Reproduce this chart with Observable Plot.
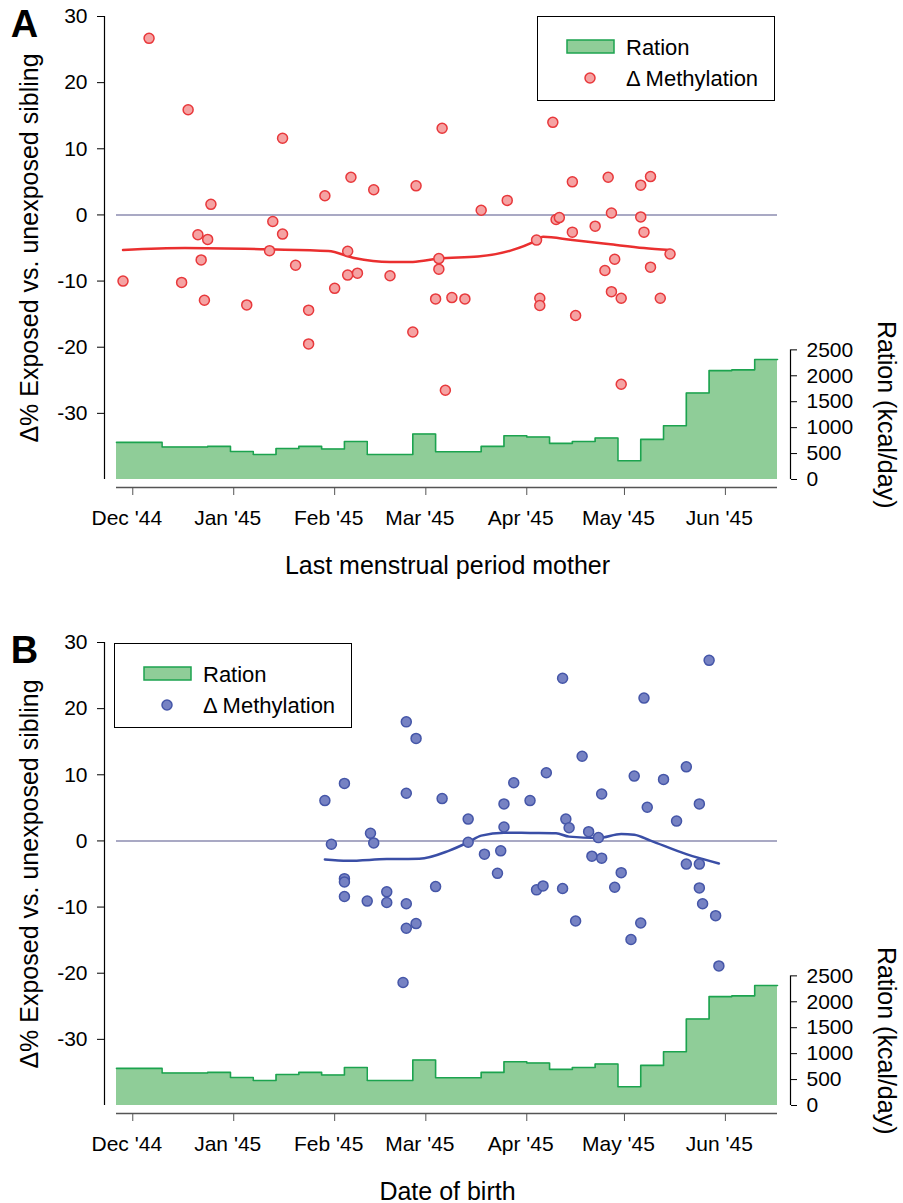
<!DOCTYPE html>
<html><head><meta charset="utf-8">
<script src="https://cdn.jsdelivr.net/npm/d3@7"></script>
<script src="https://cdn.jsdelivr.net/npm/@observablehq/plot@0.6"></script>
<style>
body{margin:0;background:#fff;font-family:"Liberation Sans",Arial,sans-serif;}
.panel{position:relative;width:903px;}
.legend{position:absolute;width:238px;height:85px;box-sizing:border-box;border:1px solid #000;background:#fff;}
.legend svg{display:block;}
</style></head><body>
<div id="pa" class="panel"></div>
<div id="pb" class="panel"></div>
<script>
// ---------- data ----------
const xDomain = ["1944-11-26", "1945-06-17"];
const monthTicks = ["1944-12-01","1945-01-01","1945-02-01","1945-03-01","1945-04-01","1945-05-01","1945-06-01"];
const yTicks = [-30, -20, -10, 0, 10, 20, 30];
const rationTicks = [0, 500, 1000, 1500, 2000, 2500];

const rationDates = ["1944-11-26","1944-12-03","1944-12-10","1944-12-17","1944-12-24","1944-12-31",
  "1945-01-07","1945-01-14","1945-01-21","1945-01-28","1945-02-04","1945-02-11","1945-02-18","1945-02-25",
  "1945-03-04","1945-03-11","1945-03-18","1945-03-25","1945-04-01","1945-04-08","1945-04-15","1945-04-22",
  "1945-04-29","1945-05-06","1945-05-13","1945-05-20","1945-05-27","1945-06-03","1945-06-10","1945-06-17"];
const rationKcal = [715,715,626,626,638,541,483,599,638,587,734,483,483,877,535,535,638,844,819,696,734,800,
  361,773,1037,1669,2100,2115,2313,2313];

// Panel A: last menstrual period of mother
const methA_dates = ["1944-11-28","1944-12-06","1944-12-16","1944-12-18","1944-12-21","1944-12-22","1944-12-23",
  "1944-12-24","1944-12-25","1945-01-05","1945-01-12","1945-01-13","1945-01-16","1945-01-16","1945-01-20",
  "1945-01-24","1945-01-24","1945-01-29","1945-02-01","1945-02-05","1945-02-05","1945-02-06","1945-02-08",
  "1945-02-13","1945-02-18","1945-02-25","1945-02-26","1945-03-04","1945-03-05","1945-03-05","1945-03-06",
  "1945-03-07","1945-03-09","1945-03-13","1945-03-18","1945-03-26","1945-04-04","1945-04-05","1945-04-05",
  "1945-04-09","1945-04-10","1945-04-11","1945-04-15","1945-04-15","1945-04-16","1945-04-22","1945-04-25",
  "1945-04-26","1945-04-27","1945-04-27","1945-04-28","1945-04-30","1945-04-30","1945-05-06","1945-05-06",
  "1945-05-07","1945-05-09","1945-05-09","1945-05-12","1945-05-15"];
const methA_values = [-10.0,26.7,-10.2,15.9,-3.0,-6.8,-12.9,-3.7,1.6,-13.6,-5.4,-1.0,11.6,-2.9,-7.6,
  -14.4,-19.5,2.9,-11.1,-9.1,-5.5,5.7,-8.8,3.8,-9.2,-17.7,4.4,-12.7,-6.6,-8.2,13.1,
  -26.5,-12.5,-12.7,0.7,2.2,-3.8,-12.6,-13.7,14.0,-0.7,-0.4,5.0,-2.6,-15.2,-1.7,-8.4,
  5.7,-11.6,0.3,-6.7,-12.6,-25.6,4.5,-0.3,-2.6,5.8,-7.9,-12.6,-5.9];
const smoothA_dates = ["1944-11-28","1944-12-17","1945-01-12","1945-01-30","1945-02-07","1945-02-18","1945-02-25",
  "1945-03-05","1945-03-17","1945-03-27","1945-04-04","1945-04-06","1945-04-15","1945-04-26","1945-05-07","1945-05-15"];
const smoothA_values = [-5.3,-5.0,-5.2,-5.45,-6.5,-7.1,-7.1,-6.6,-6.3,-5.4,-3.85,-3.3,-3.8,-4.4,-5.0,-5.3];

// Panel B: date of birth
const methB_dates = ["1945-01-29","1945-01-31","1945-02-04","1945-02-04","1945-02-04","1945-02-04","1945-02-11",
  "1945-02-12","1945-02-13","1945-02-17","1945-02-17","1945-02-22","1945-02-23","1945-02-23","1945-02-23",
  "1945-02-23","1945-02-26","1945-02-26","1945-03-04","1945-03-06","1945-03-14","1945-03-14","1945-03-19",
  "1945-03-23","1945-03-24","1945-03-25","1945-03-25","1945-03-28","1945-04-02","1945-04-04","1945-04-06",
  "1945-04-07","1945-04-12","1945-04-12","1945-04-13","1945-04-14","1945-04-16","1945-04-18","1945-04-20",
  "1945-04-21","1945-04-24","1945-04-24","1945-04-23","1945-04-28","1945-04-30","1945-05-03","1945-05-04",
  "1945-05-06","1945-05-07","1945-05-08","1945-05-13","1945-05-17","1945-05-20","1945-05-20","1945-05-24",
  "1945-05-24","1945-05-24","1945-05-25","1945-05-27","1945-05-29","1945-05-30"];
const methB_values = [6.1,-0.5,8.7,-5.7,-6.2,-8.4,-9.1,1.15,-0.3,-7.7,-9.3,-21.4,-9.5,-13.2,18.0,
  7.2,15.5,-12.5,-6.9,6.4,3.3,-0.2,-2.0,-4.9,-1.5,2.1,5.6,8.8,6.1,-7.4,-6.8,
  10.3,24.6,-7.2,3.3,2.0,-12.1,12.8,1.4,-2.3,7.1,-2.6,0.5,-7.0,-4.8,-14.9,9.8,
  -12.4,21.6,5.1,9.3,3.0,11.2,-3.5,-3.5,5.6,-7.1,-9.5,27.3,-11.3,-18.9];
const smoothB_dates = ["1945-01-29","1945-02-05","1945-02-17","1945-02-27","1945-03-08","1945-03-14","1945-03-18",
  "1945-03-25","1945-04-02","1945-04-10","1945-04-14","1945-04-23","1945-04-30","1945-05-04","1945-05-09",
  "1945-05-20","1945-05-30"];
const smoothB_values = [-2.8,-3.0,-2.75,-2.7,-1.5,-0.2,0.8,1.25,1.2,1.15,0.65,0.45,1.05,0.95,0.05,-2.0,-3.4];

// ---------- drawing ----------
const FONT = "Liberation Sans, Arial, Helvetica, sans-serif";
const Y_MIN = -40, Y_MAX = 30;
const K = 19.6 / 2500;                 // kcal -> left-axis units (secondary axis)
const toY = r => Y_MIN + r * K;
const fromY = v => Math.round((v - Y_MIN) / K);
const parse = s => new Date(s);
const x0 = parse(xDomain[0]), x1 = parse(xDomain[1]);
const ration = rationDates.map((d, i) => ({date: parse(d), kcal: rationKcal[i]}));
const monthFmt = d3.utcFormat("%b '%y");

function panel({height, letter, xTitle, dates, values, sDates, sValues, dotFill, dotStroke, lineColor}) {
  const pts = dates.map((d, i) => ({date: parse(d), v: values[i]}));
  const smooth = sDates.map((d, i) => ({date: parse(d), v: sValues[i]}));
  return Plot.plot({
    width: 903, height,
    marginLeft: 104, marginRight: 113, marginTop: 16, marginBottom: height - 487,
    style: {fontFamily: FONT, fontSize: "21px", color: "#000", background: "#fff", overflow: "visible"},
    x: {type: "utc", domain: [x0, x1], insetLeft: 12, insetRight: 13, axis: null},
    y: {domain: [Y_MIN, Y_MAX], insetBottom: 8, axis: null},
    marks: [
      Plot.areaY(ration, {x: "date", y1: () => Y_MIN, y2: d => toY(d.kcal), curve: "step-after", fill: "#8fcd98"}),
      Plot.lineY(ration, {x: "date", y: d => toY(d.kcal), curve: "step-after", stroke: "#1ca34f", strokeWidth: 1.6}),
      Plot.ruleY([0], {x1: () => x0, x2: () => x1, stroke: "#8d8db0", strokeWidth: 1.5}),
      Plot.lineY(smooth, {x: "date", y: "v", stroke: lineColor, strokeWidth: 2.5, curve: "monotone-x"}),
      Plot.dot(pts, {x: "date", y: "v", r: 5, fill: dotFill, stroke: dotStroke, strokeWidth: 1.5}),
      // left axis
      Plot.ruleX([x0], {y1: () => Y_MIN, y2: () => Y_MAX, dx: -12, stroke: "#000", strokeWidth: 1.2}),
      Plot.axisY(yTicks, {anchor: "left", tickSize: 7, tickPadding: 10, label: null, fontSize: 21, stroke: "#000",
        tickFormat: d => String(d)}),
      // right (ration) axis
      Plot.ruleX([x1], {y1: () => toY(0), y2: () => toY(2500), dx: 13, stroke: "#000", strokeWidth: 1.2}),
      Plot.axisY(rationTicks.map(toY), {anchor: "right", tickSize: 6, tickPadding: 10, label: null, fontSize: 21,
        tickFormat: v => String(fromY(v))}),
      // x axis
      Plot.ruleY([Y_MIN], {x1: () => x0, x2: () => x1, dy: 8, stroke: "#555", strokeWidth: 1.5}),
      Plot.axisX(monthTicks.map(parse), {anchor: "bottom", tickSize: 8, label: null, stroke: "#555",
        tickFormat: () => ""}),
      Plot.text(monthTicks.map(parse), {x: d => d, text: d => monthFmt(d), frameAnchor: "bottom", dy: 23, dx: -6,
        fontSize: 21, textAnchor: "middle", lineAnchor: "top"}),
      // titles
      Plot.text([xTitle], {text: d => d, frameAnchor: "bottom", dy: 78, fontSize: 25,
        textAnchor: "middle", lineAnchor: "middle"}),
      Plot.text(["\u0394% Exposed vs. unexposed sibling"], {text: d => d, frameAnchor: "left", y: () => (Y_MIN + Y_MAX) / 2,
        dx: -75, rotate: -90, fontSize: 25, textAnchor: "middle", lineAnchor: "middle"}),
      Plot.text(["Ration (kcal/day)"], {text: d => d, frameAnchor: "right", y: () => toY(1250),
        dx: 95, rotate: 90, fontSize: 25, textAnchor: "middle", lineAnchor: "middle"}),
      Plot.text([letter], {text: d => d, frameAnchor: "top-left", dx: -80, dy: 8, fontSize: 38, fontWeight: "bold",
        textAnchor: "middle", lineAnchor: "middle"})
    ]
  });
}

function legend(left, top, fill, stroke) {
  const div = document.createElement("div");
  div.className = "legend";
  div.style.left = left + "px";
  div.style.top = top + "px";
  div.innerHTML = `<svg width="236" height="83" font-family="${FONT}" font-size="22">
    <rect x="29" y="23" width="47" height="13" fill="#8fcd98" stroke="#1ca34f" stroke-width="1.5"/>
    <text x="88" y="30" dominant-baseline="central">Ration</text>
    <circle cx="52" cy="61" r="5" fill="${fill}" stroke="${stroke}" stroke-width="1.5"/>
    <text x="88" y="61" dominant-baseline="central">\u0394 Methylation</text>
  </svg>`;
  return div;
}

const pa = document.getElementById("pa");
pa.append(panel({height: 626, letter: "A", xTitle: "Last menstrual period mother",
  dates: methA_dates, values: methA_values, sDates: smoothA_dates, sValues: smoothA_values,
  dotFill: "#f5a3a3", dotStroke: "#e8383b", lineColor: "#ea2f2f"}));
pa.append(legend(537, 16, "#f5a3a3", "#e8383b"));

const pb = document.getElementById("pb");
pb.append(panel({height: 577, letter: "B", xTitle: "Date of birth",
  dates: methB_dates, values: methB_values, sDates: smoothB_dates, sValues: smoothB_values,
  dotFill: "#7682c3", dotStroke: "#4556a8", lineColor: "#3a4ea6"}));
pb.append(legend(114, 17, "#7682c3", "#4556a8"));
</script>
</body></html>
